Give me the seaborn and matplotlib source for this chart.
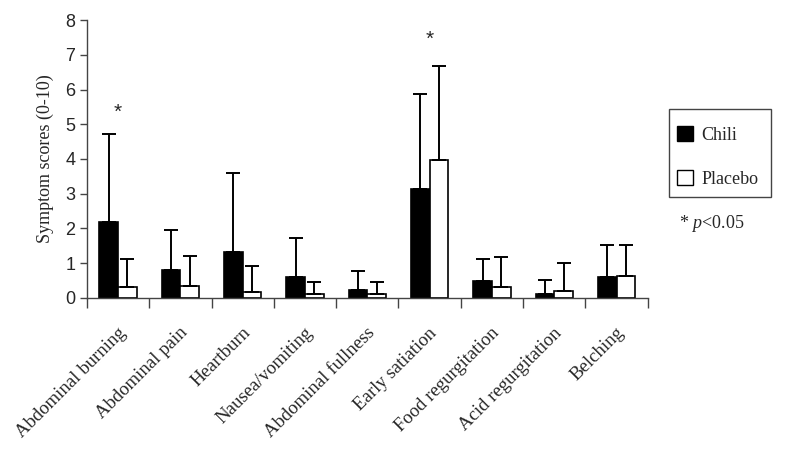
import pandas as pd
import matplotlib
matplotlib.use("Agg")
import matplotlib.pyplot as plt
import matplotlib.transforms as mtransforms
import seaborn as sns
from matplotlib.patches import Patch, Rectangle

# ----------------------------------------
# data
# ----------------------------------------
symptoms = [
    "Abdominal burning", "Abdominal pain", "Heartburn", "Nausea/vomiting",
    "Abdominal fullness", "Early satiation", "Food regurgitation",
    "Acid regurgitation", "Belching",
]
chili_mean = [2.18, 0.80, 1.33, 0.59, 0.22, 3.14, 0.48, 0.12, 0.59]
chili_sd = [2.53, 1.16, 2.27, 1.15, 0.57, 2.72, 0.64, 0.39, 0.93]
placebo_mean = [0.31, 0.34, 0.16, 0.12, 0.11, 3.97, 0.32, 0.21, 0.63]
placebo_sd = [0.81, 0.87, 0.75, 0.34, 0.35, 2.70, 0.85, 0.79, 0.89]
significant = ["Abdominal burning", "Early satiation"]
star_height = [5.35, 7.45]

df = pd.DataFrame({
    "symptom": symptoms * 2,
    "group": ["Chili"] * len(symptoms) + ["Placebo"] * len(symptoms),
    "score": chili_mean + placebo_mean,
})

sns.set_style("ticks")
plt.rcParams["font.family"] = ["Liberation Serif", "DejaVu Serif"]
plt.rcParams["mathtext.fontset"] = "custom"
plt.rcParams["mathtext.it"] = "Liberation Serif:italic"
plt.rcParams["mathtext.rm"] = "Liberation Serif"

fig = plt.figure(figsize=(7.87, 4.59), dpi=100)
ax = fig.add_axes([0.1105, 0.3508, 0.7125, 0.6056])

sns.barplot(
    data=df, x="symptom", y="score", hue="group", order=symptoms,
    palette={"Chili": "black", "Placebo": "white"},
    edgecolor="black", linewidth=1.2, width=0.6, errorbar=None,
    legend=False, ax=ax,
)

# upward-only error bars
for cont, sds in zip(ax.containers, [chili_sd, placebo_sd]):
    for bar, sd in zip(cont.patches, sds):
        x = bar.get_x() + bar.get_width() / 2
        h = bar.get_height()
        ax.errorbar(x, h, yerr=[[0], [sd]], color="black", lw=1.4,
                    capsize=5, capthick=1.4, zorder=1)

# significance stars
for name, hgt in zip(significant, star_height):
    ax.text(symptoms.index(name), hgt, "*", ha="center", va="center",
            fontsize=15, family="Liberation Sans")

ax.set_ylim(0, 8)
ax.set_xlim(-0.5, len(symptoms) - 0.5)
ax.set_yticks(range(0, 9))
ax.set_yticklabels([str(v) for v in range(0, 9)], family="Liberation Sans", fontsize=13)
ax.tick_params(axis="y", length=5, width=1, color="#444444")

# category labels at centres, tick marks at boundaries
ax.set_xticks(range(len(symptoms)))
ax.set_xticklabels(symptoms, rotation=45, ha="right", rotation_mode="anchor", fontsize=13.5)
ax.tick_params(axis="x", which="major", length=0, pad=19)
shift = mtransforms.ScaledTranslation(-1 / 100, 0, fig.dpi_scale_trans)
for lab in ax.get_xticklabels():
    lab.set_transform(lab.get_transform() + shift)
ax.set_xticks([i - 0.5 for i in range(len(symptoms) + 1)], minor=True)
ax.tick_params(axis="x", which="minor", length=7, width=1, color="#444444")
ax.set_xlabel("")
ax.set_ylabel("Symptom scores (0-10)", fontsize=13, labelpad=8)

sns.despine(ax=ax)
for sp in ["left", "bottom"]:
    ax.spines[sp].set_color("#444444")
    ax.spines[sp].set_linewidth(1)

# legend with a hand-sized frame
box = Rectangle((669 / 787, 1 - 197 / 459), 102 / 787, 88 / 459, transform=fig.transFigure,
                facecolor="white", edgecolor="#444444", linewidth=1)
fig.patches.append(box)
handles = [Patch(facecolor="black", edgecolor="black", label="Chili"),
           Patch(facecolor="white", edgecolor="black", label="Placebo")]
leg = fig.legend(handles=handles, loc="center left", bbox_to_anchor=(677 / 787, 1 - 157 / 459),
                 frameon=False, fontsize=13,
                 handlelength=0.9, handleheight=0.9, labelspacing=1.45, borderpad=0,
                 handletextpad=0.45, borderaxespad=0)

fig.text(679 / 787, 1 - 224 / 459, "* $p$<0.05", fontsize=13, va="center")

fig.savefig("out.png", dpi=100)
